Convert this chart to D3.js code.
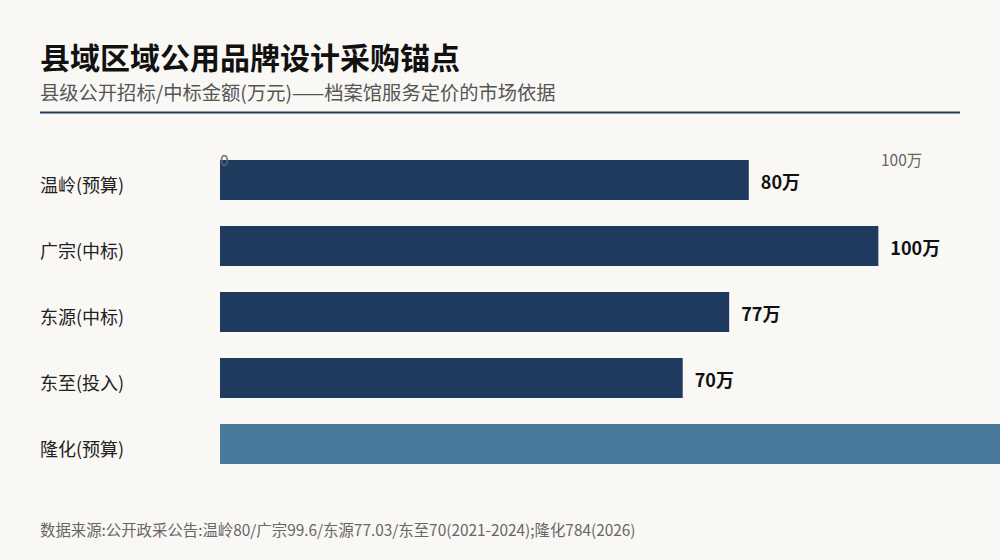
<!DOCTYPE html>
<html>
<head>
<meta charset="utf-8">
<script src="https://cdn.jsdelivr.net/npm/d3@7"></script>
<style>
  html, body { margin: 0; padding: 0; background: #f9f8f5; }
  svg { display: block; font-family: "Noto Sans CJK SC", "Noto Sans", sans-serif; }
</style>
</head>
<body>
<div class="canvas"></div>
<script>
'use strict';
var categories = ["温岭(预算)", "广宗(中标)", "东源(中标)", "东至(投入)", "隆化(预算)"];
var values = [80, 99.6, 77.03, 70, 784];
var highlight = [false, false, false, false, true];
var tickValues = [0, 100];
var tickLabels = ["0", "100万"];

var W = 1000, H = 560;

var svg = d3.select(".canvas")
    .append("svg")
    .attr("width", W)
    .attr("height", H);

svg.append("rect").attr("width", W).attr("height", H).attr("fill", "#f9f8f5");

svg.append("text")
    .attr("x", 40).attr("y", 69)
    .attr("font-size", 30).attr("font-weight", "bold")
    .attr("fill", "#111")
    .text("县域区域公用品牌设计采购锚点");

svg.append("text")
    .attr("x", 40).attr("y", 100)
    .attr("font-size", 19.3)
    .attr("fill", "#555")
    .text("县级公开招标/中标金额(万元)——档案馆服务定价的市场依据");

svg.append("line")
    .attr("x1", 40).attr("x2", 960)
    .attr("y1", 112.5).attr("y2", 112.5)
    .attr("stroke", "#1f3a5f").attr("stroke-width", 2);

var xScale = d3.scaleLinear()
    .domain([0, 100])
    .range([220, 881]);

var yScale = d3.scaleBand()
    .domain(categories)
    .range([147, 477])
    .paddingInner(0.394)
    .paddingOuter(0.197);

// bars first, ticks sit on top
svg.selectAll(".bar")
    .data(categories)
    .enter().append("rect")
    .attr("class", "bar")
    .attr("x", xScale(0))
    .attr("y", (d) => yScale(d))
    .attr("width", (d, i) => xScale(values[i]) - xScale(0))
    .attr("height", yScale.bandwidth())
    .attr("fill", (d, i) => highlight[i] ? "#4a7a9b" : "#1f3a5f");

svg.selectAll(".tick-label")
    .data(tickValues)
    .enter().append("text")
    .attr("class", "tick-label")
    .attr("x", (d) => xScale(d))
    .attr("y", 166)
    .attr("font-size", 15.5)
    .attr("fill", "#666")
    .text((d, i) => tickLabels[i]);

svg.selectAll(".cat")
    .data(categories)
    .enter().append("text")
    .attr("class", "cat")
    .attr("x", 40)
    .attr("y", (d) => yScale(d) + yScale.bandwidth() / 2 + 12)
    .attr("font-size", 18)
    .attr("fill", "#222")
    .text((d) => d);

// 隆化 runs far past the edge, so its label lands off-canvas like the original
svg.selectAll(".val")
    .data(categories)
    .enter().append("text")
    .attr("class", "val")
    .attr("x", (d, i) => xScale(values[i]) + 12)
    .attr("y", (d) => yScale(d) + yScale.bandwidth() / 2 + 9)
    .attr("font-size", 18).attr("font-weight", "bold")
    .attr("fill", "#111")
    .text((d, i) => Math.round(values[i]) + "万");

svg.append("text")
    .attr("x", 40).attr("y", 536)
    .attr("font-size", 15.4)
    .attr("fill", "#666")
    .text("数据来源:公开政采公告:温岭80/广宗99.6/东源77.03/东至70(2021-2024);隆化784(2026)");
</script>
</body>
</html>
